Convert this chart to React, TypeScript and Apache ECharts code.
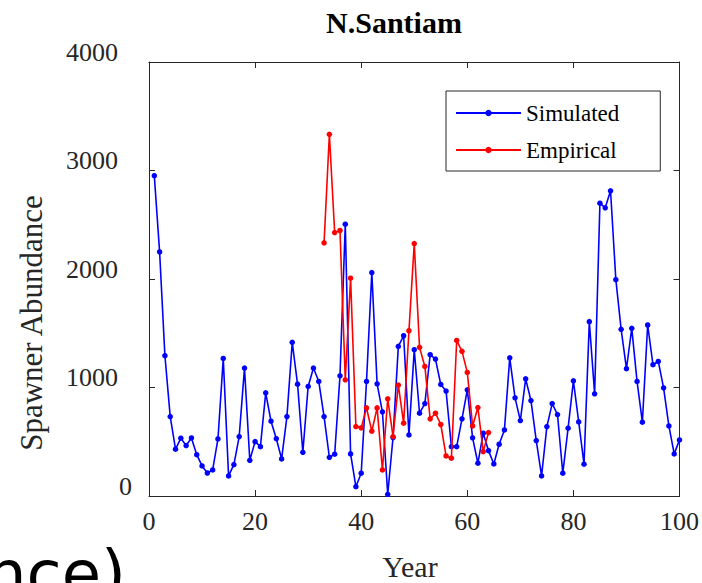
import React, { useEffect, useRef } from "react";
import * as echarts from "echarts";

// ---- data ----
const SIM_START_YEAR = 1;
const simulated = [
  2952, 2250, 1293, 732, 431, 533, 465, 535, 381, 277,
  212, 240, 526, 1268, 185, 289, 548, 1179, 329, 501,
  455, 951, 689, 528, 342, 732, 1416, 1031, 403, 1010,
  1179, 1056, 732, 357, 385, 1108, 2505, 388, 86, 210,
  1056, 2059, 1034, 776, 16, 539, 1379, 1477, 563, 1348,
  763, 852, 1302, 1262, 1028, 967, 455, 455, 711, 979,
  536, 302, 579, 418, 295, 477, 609, 1274, 905, 695,
  1080, 880, 511, 185, 640, 852, 751, 210, 625, 1062,
  683, 293, 1607, 942, 2699, 2656, 2813, 1994, 1536, 1173,
  1545, 1056, 680, 1576, 1210, 1240, 997, 646, 388, 517,
];

const EMP_START_YEAR = 33;
const empirical = [
  2333, 3333, 2428, 2447, 1071, 2007, 640, 628, 812, 597,
  812, 240, 896, 548, 1022, 671, 1523, 2327, 1370, 1194,
  711, 763, 659, 369, 348, 1434, 1333, 1139, 646, 815,
  409, 585,
];

const seriesNames = ["Simulated", "Empirical"];
const X_MIN = 0, X_MAX = 100, X_INTERVAL = 20;
const Y_MIN = 0, Y_MAX = 4000, Y_INTERVAL = 1000;
const titleText = "N.Santiam";
const xName = "Year";
const yName = "Spawner Abundance";
const fragmentText = "nce)";

const toPairs = (vals: number[], start: number) => vals.map((v, i) => [start + i, v]);

export default function App() {
  const ref = useRef<HTMLDivElement>(null);

  useEffect(() => {
    document.body.style.margin = "0";
    if (!ref.current) return;
    const chart = echarts.init(ref.current, undefined, { renderer: "svg" });
    const axisColor = "#262626";
    const serif = '"Liberation Serif", "Times New Roman", serif';

    const axisCommon = {
      type: "value" as const,
      axisLine: { show: true, onZero: false, lineStyle: { color: axisColor, width: 1 } },
      axisTick: { show: true, inside: true, length: 6, lineStyle: { color: axisColor, width: 1 } },
      splitLine: { show: false },
    };

    const option: any = {
      animation: false,
      backgroundColor: "#ffffff",
      textStyle: { fontFamily: serif },
      grid: { left: 149, right: 15, top: 62, bottom: 87, containLabel: false },
      xAxis: [
        {
          ...axisCommon,
          min: X_MIN, max: X_MAX, interval: X_INTERVAL,
          position: "bottom",
          axisLabel: { color: axisColor, fontFamily: serif, fontSize: 26, margin: 12 },
        },
        {
          ...axisCommon,
          min: X_MIN, max: X_MAX, interval: X_INTERVAL,
          position: "top",
          axisLabel: { show: false },
        },
      ],
      yAxis: [
        {
          ...axisCommon,
          min: Y_MIN, max: Y_MAX, interval: Y_INTERVAL,
          position: "left",
          axisLabel: {
            color: axisColor, fontFamily: serif, fontSize: 26, margin: 17,
            padding: [0, 0, 20, 0],
            formatter: (v: number) => (v === 0 ? `{z|${v}}` : `{n|${v}}`),
            rich: {
              n: { color: axisColor, fontFamily: serif, fontSize: 26, padding: [0, 14, 0, 0] },
              z: { color: axisColor, fontFamily: serif, fontSize: 26 },
            },
          },
        },
        {
          ...axisCommon,
          min: Y_MIN, max: Y_MAX, interval: Y_INTERVAL,
          position: "right",
          axisLabel: { show: false },
        },
      ],
      legend: {
        data: seriesNames,
        orient: "vertical",
        left: 446,
        top: 91,
        padding: [4, 41, 3, 9],
        itemGap: 1,
        itemWidth: 65,
        itemHeight: 8,
        borderColor: axisColor,
        borderWidth: 1,
        backgroundColor: "#ffffff",
        selectedMode: false,
        textStyle: {
          fontFamily: serif, fontSize: 23, color: "#000000", lineHeight: 26,
          padding: [0, 0, 10, 0],
        },
      },
      series: [
        {
          name: seriesNames[0],
          type: "line",
          xAxisIndex: 0,
          yAxisIndex: 0,
          data: toPairs(simulated, SIM_START_YEAR),
          symbol: "circle",
          symbolSize: 5.5,
          lineStyle: { color: "#0000ff", width: 1.6 },
          itemStyle: { color: "#0000ff" },
          z: 2,
        },
        {
          name: seriesNames[1],
          type: "line",
          xAxisIndex: 0,
          yAxisIndex: 0,
          data: toPairs(empirical, EMP_START_YEAR),
          symbol: "circle",
          symbolSize: 5.5,
          lineStyle: { color: "#ff0000", width: 1.6 },
          itemStyle: { color: "#ff0000" },
          z: 3,
        },
      ],
      graphic: [
        {
          type: "text",
          x: 394, y: 22,
          style: {
            text: titleText, fill: "#000000",
            font: `bold 30px ${serif}`,
            align: "center", verticalAlign: "middle",
          },
        },
        {
          type: "text",
          x: 410, y: 566,
          style: {
            text: xName, fill: axisColor,
            font: `30px ${serif}`,
            align: "center", verticalAlign: "middle",
          },
        },
        {
          type: "text",
          x: 31, y: 323,
          rotation: Math.PI / 2,
          style: {
            text: yName, fill: axisColor,
            font: `31px ${serif}`,
            align: "center", verticalAlign: "middle",
          },
        },
        {
          type: "text",
          x: 126, y: 574,
          style: {
            text: fragmentText, fill: "#000000",
            font: `64px "DejaVu Sans", sans-serif`,
            align: "right", verticalAlign: "middle",
          },
        },
      ],
    };

    chart.setOption(option);
    return () => chart.dispose();
  }, []);

  return (
    <div
      ref={ref}
      style={{ position: "fixed", left: 0, top: 0, width: 702, height: 583 }}
    />
  );
}
